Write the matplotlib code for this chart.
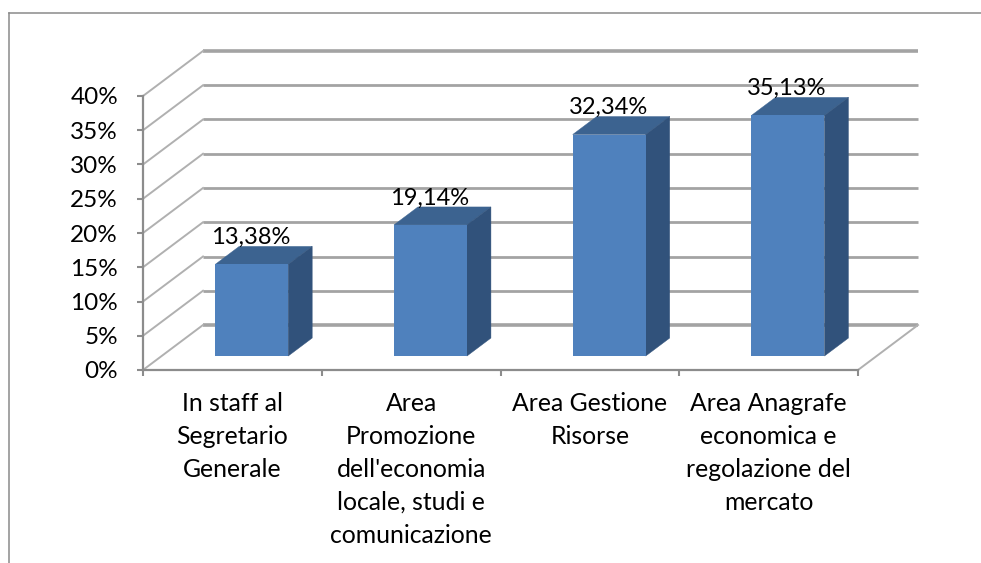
import numpy as np
import matplotlib.pyplot as plt
from matplotlib.lines import Line2D
from matplotlib.patches import Polygon

plt.rcParams['font.family'] = ['Lato', 'DejaVu Sans']

categories = ['In staff al\nSegretario\nGenerale',
              'Area\nPromozione\ndell\'economia\nlocale, studi e\ncomunicazione',
              'Area Gestione\nRisorse',
              'Area Anagrafe\neconomica e\nregolazione del\nmercato']
values = [13.38, 19.14, 32.34, 35.13]
value_labels = ['13,38%', '19,14%', '32,34%', '35,13%']
y_ticks = [0, 5, 10, 15, 20, 25, 30, 35, 40]

# fake 3d depth, in axis units
depth_x = 60 / 178.75
depth_y = 45 / 6.85
bar_front = 0.31
bar_depth = 0.4
bar_width = 73 / 178.75

grid_color = '#a3a3a3'
axis_color = '#8c8c8c'

fig = plt.figure(figsize=(9.81, 5.63), dpi=100)
ax = fig.add_axes([143 / 981, (563 - 370) / 563, 715 / 981, 274 / 563])
ax.set_xlim(0, 4)
ax.set_ylim(0, 40)
for side in ['top', 'right']:
    ax.spines[side].set_visible(False)
for side in ['left', 'bottom']:
    ax.spines[side].set_color(axis_color)
    ax.spines[side].set_linewidth(1.6)
ax.patch.set_visible(False)

# back wall grid and the left side wall
for t in y_ticks:
    lw = 2.6 if t in (0, 40) else 2.0
    ax.plot([depth_x, 4 + depth_x], [t + depth_y, t + depth_y], color=grid_color,
            lw=lw, clip_on=False, zorder=1, solid_capstyle='butt')
    ax.plot([0, depth_x], [t, t + depth_y], color='#b0b0b0', lw=1.4, clip_on=False, zorder=1)
# right edge of the floor
ax.plot([4, 4 + depth_x], [0, depth_y], color='#b0b0b0', lw=1.4, clip_on=False, zorder=1)

# bars
for i, v in enumerate(values):
    x0 = i + 0.5 - bar_width / 2 + depth_x * bar_front + 0.004
    x1 = x0 + bar_width
    y0 = depth_y * bar_front
    y1 = y0 + v
    ox = depth_x * bar_depth
    oy = depth_y * bar_depth
    ax.add_patch(Polygon([(x0, y1), (x1, y1), (x1 + ox, y1 + oy), (x0 + ox, y1 + oy)],
                         facecolor='#3c6390', edgecolor='#3c6390', lw=0.3, clip_on=False, zorder=3))
    ax.add_patch(Polygon([(x1, y0), (x1 + ox, y0 + oy), (x1 + ox, y1 + oy), (x1, y1)],
                         facecolor='#31527b', edgecolor='#31527b', lw=0.3, clip_on=False, zorder=3))
    ax.bar(x0, v, width=bar_width, bottom=y0, align='edge', color='#4f81bd',
           clip_on=False, zorder=4)
    ax.annotate(value_labels[i], (x0 + bar_width / 2, y1), xytext=(-1, 27),
                textcoords='offset pixels', ha='center', va='center', fontsize=17,
                color='black', zorder=5, annotation_clip=False)

ax.set_yticks(y_ticks)
ax.set_yticklabels([str(t) + '%' for t in y_ticks], fontsize=17.5)
ax.tick_params(axis='y', length=4, width=1.5, color=axis_color, pad=14)

ax.set_xticks([0, 1, 2, 3, 4])
ax.set_xticklabels([])
ax.tick_params(axis='x', which='major', length=4, width=1.5, color=axis_color)
ax.set_xticks([0.5, 1.5, 2.5, 3.5], minor=True)
ax.set_xticklabels(categories, minor=True, fontsize=17.8, linespacing=1.52, va='top')
ax.tick_params(axis='x', which='minor', length=0, pad=16)

# chart frame, cut off by the screenshot
fig.add_artist(Line2D([9 / 981, 1], [1 - 13 / 563, 1 - 13 / 563], color='#8a8a8a', lw=1.1))
fig.add_artist(Line2D([9 / 981, 9 / 981], [0, 1 - 13 / 563], color='#8a8a8a', lw=1.1))

fig.savefig('out.png', dpi=100)
